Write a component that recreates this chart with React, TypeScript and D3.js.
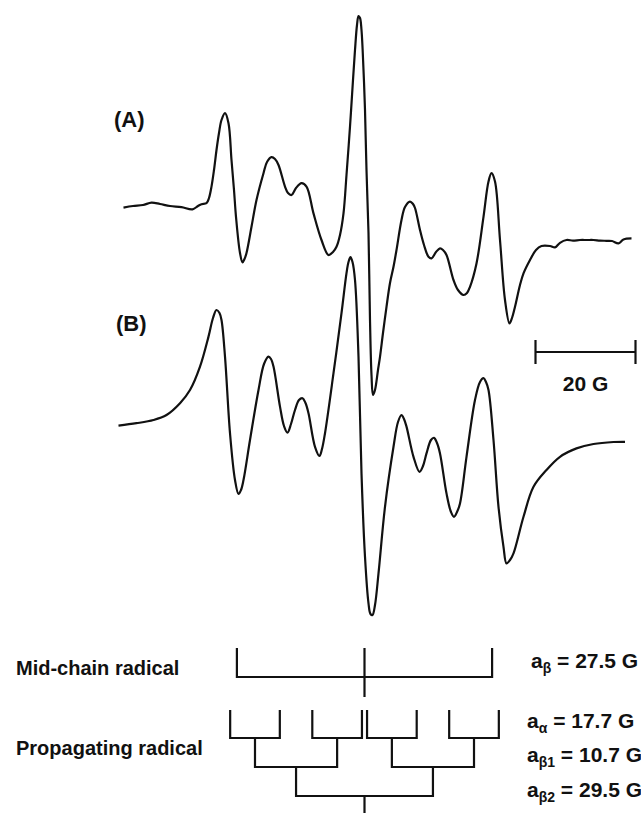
import React from "react";
import * as d3 from "d3";

// ---- Spectrum (A): experimental, field offset (G) vs. derivative intensity (a.u.)
const fieldA = [
  -48.1, -46.2, -44.2, -42.5, -40.8, -38.8, -36.5, -34.3, -33.2, -32.5, -31.5, -31.0, -30.5, -30.0,
  -29.5, -29.0, -28.5, -27.8, -27.1, -26.5, -26.0, -25.6, -24.8, -24.3, -23.9, -23.5, -22.5, -21.5,
  -20.1, -19.4, -18.5, -17.8, -17.1, -15.8, -15.2, -14.5, -13.6, -12.5, -11.5, -10.1, -8.5, -7.1,
  -6.2, -5.5, -4.8, -4.1, -3.5, -2.8, -2.2, -1.8, -1.4, -1.1, -0.8, -0.5, -0.1, 0.2, 0.5, 0.9, 1.2,
  1.5, 1.8, 2.2, 2.8, 3.2, 3.8, 4.5, 5.2, 5.9, 6.5, 7.5, 8.2, 9.2, 9.8, 10.2, 11.2, 12.0, 12.9, 13.5,
  14.4, 15.2, 15.8, 16.5, 17.9, 18.8, 19.9, 20.6, 21.2, 22.5, 23.9, 24.9, 25.5, 26.2, 27.2, 28.2,
  29.1, 29.6, 30.2, 31.2, 31.9, 33.2, 34.4, 35.5, 37.2, 38.2, 39.2, 40.5, 41.8, 43.2, 44.6, 45.9,
  47.2, 48.5, 49.6, 50.9, 51.9, 53.5,
];
const intensityA = [
  0.2, 1.0, 1.5, 2.7, 2.0, 1.0, 0.4, -0.7, 1.0, 1.9, 2.4, 5.0, 10.7, 19.0,
  29.0, 37.5, 44.0, 47.4, 42.4, 24.0, 9.0, -4.4, -22.5, -27.2, -25.5, -22.5, -9.4, 4.0,
  17.4, 23.0, 25.4, 24.5, 21.5, 10.7, 7.5, 6.5, 10.0, 12.4, 10.7, -2.7, -16.0, -23.5,
  -22.0, -19.4, -13.5, -2.7, 16.5, 40.7, 64.0, 79.0, 91.5, 96.0, 95.0, 89.0, 69.0, 49.0, 19.0, -12.5, -56.0,
  -83.5, -93.5, -91.0, -81.0, -74.4, -62.5, -49.4, -37.5, -29.4, -21.0, -6.0, 0.5, 3.2, 2.0, 0.0, -11.0, -18.5, -24.4, -25.2,
  -22.0, -20.2, -21.0, -23.5, -36.0, -41.0, -43.5, -42.5, -39.4, -27.7, -4.4, 13.2, 17.4, 13.2, -16.0, -46.0,
  -57.7, -55.0, -49.4, -38.5, -32.7, -26.0, -21.0, -19.0, -19.0, -19.7, -17.4, -16.0, -16.3, -16.0, -16.0, -16.0,
  -16.3, -16.4, -16.5, -17.7, -15.7, -15.2,
];

// ---- Spectrum (B): simulated
const fieldB = [
  -49.1, -45.5, -42.1, -39.5, -36.8, -34.8, -32.8, -31.1, -30.2, -29.5, -28.9, -28.5, -27.8, -26.8,
  -25.8, -25.1, -24.6, -24.1, -22.8, -21.1, -20.0, -19.1, -18.6, -18.1, -16.8, -16.0, -15.3, -14.6,
  -13.8, -13.0, -12.3, -11.7, -11.1, -9.8, -8.9, -8.4, -7.8, -6.1, -4.5, -3.5, -3.1, -2.7, -2.3,
  -1.8, -1.1, -0.5, 0.2, 0.9, 1.3, 1.7, 2.2, 2.9, 4.2, 5.9, 6.8, 7.5, 8.0, 8.5, 9.9, 11.1, 11.8,
  12.5, 13.4, 14.0, 14.6, 15.2, 16.5, 17.4, 18.0, 18.6, 19.2, 20.5, 22.2, 23.2, 23.9, 24.4, 24.9,
  25.9, 26.9, 27.9, 28.5, 29.2, 29.9, 31.9, 33.9, 36.5, 39.2, 42.5, 45.9, 49.9, 52.2,
];
const intensityB = [
  5.2, 6.4, 8.0, 10.5, 16.4, 23.0, 34.7, 49.7, 59.0, 63.0, 61.5, 58.0, 39.7, 1.4,
  -22.0, -29.0, -27.0, -22.0, -2.0, 23.0, 36.0, 39.7, 38.5, 34.7, 14.7, 5.0, 1.7, 6.0,
  13.0, 18.0, 18.9, 16.5, 11.4, -5.4, -10.0, -6.5, 1.4, 31.4, 61.4, 81.4, 87.0, 89.4, 87.0,
  78.0, 39.7, -18.7, -60.4, -83.7, -89.0, -89.5, -84.5, -68.7, -35.4, -5.4, 7.0, 10.5, 8.5, 4.7, -10.4, -17.9, -15.0,
  -8.7, -2.0, -0.9, -3.5, -8.7, -28.7, -38.0, -40.4, -38.0, -33.7, -10.4, 18.0, 27.0, 28.9, 27.0, 23.0,
  -2.0, -35.4, -55.4, -63.7, -62.0, -58.7, -40.4, -25.4, -17.0, -10.4, -6.2, -4.0, -3.0, -2.9,
];

// ---- Hyperfine coupling constants (G) for the stick diagrams
const midChainSplittings = [27.5]; // a_beta
const propagatingSplittings = [29.5, 17.7, 10.7]; // a_beta2, a_alpha, a_beta1 (bottom to top)
const scaleBarLength = 20; // G

const couplingLabels = [
  { sub: "β", value: "27.5" },
  { sub: "α", value: "17.7" },
  { sub: "β1", value: "10.7" },
  { sub: "β2", value: "29.5" },
];
const radicalNames = ["Mid-chain radical", "Propagating radical"];
const spectrumLabels = ["(A)", "(B)"];

const W = 641;
const H = 813;
const FONT = "'Liberation Sans', Arial, Helvetica, sans-serif";

export default function App() {
  const x = d3.scaleLinear().domain([-50, 55]).range([114, 639]);
  const yA = d3.scaleLinear().domain([-100, 100]).range([408, 8]);
  const yB = d3.scaleLinear().domain([-100, 100]).range([636, 236]);
  const stickX = d3.scaleLinear().domain([-30, 30]).range([364.5 - 139.2, 364.5 + 139.2]);

  const lineA = d3
    .line<number>()
    .x((_, i) => x(fieldA[i]))
    .y((d) => yA(d))
    .curve(d3.curveCatmullRom.alpha(0.5));
  const lineB = d3
    .line<number>()
    .x((_, i) => x(fieldB[i]))
    .y((d) => yB(d))
    .curve(d3.curveCatmullRom.alpha(0.5));

  // Mid-chain stick diagram (1:2:1 triplet)
  const midTop = 648;
  const midBar = 677;
  const midStemBottom = 697;
  const aB = midChainSplittings[0];
  const midPath = [
    `M${stickX(-aB)},${midTop}V${midBar}H${stickX(aB)}V${midTop}`,
    `M${stickX(0)},${midTop}V${midStemBottom}`,
  ].join("");

  // Propagating radical: splitting tree drawn from the bottom up
  const levelY = [813, 796, 767, 738, 710];
  const segs: string[] = [];
  let centers = [0];
  segs.push(`M${stickX(0)},${levelY[0]}V${levelY[1]}`);
  propagatingSplittings.forEach((a, li) => {
    const next: number[] = [];
    centers.forEach((c) => {
      const l = c - a / 2;
      const r = c + a / 2;
      segs.push(`M${stickX(l)},${levelY[li + 2]}V${levelY[li + 1]}H${stickX(r)}V${levelY[li + 2]}`);
      next.push(l, r);
    });
    centers = next;
  });

  const labelY = [668, 728, 762, 797];

  return (
    <svg
      width={W}
      height={H}
      viewBox={`0 0 ${W} ${H}`}
      style={{ position: "absolute", left: 0, top: 0, background: "#fff" }}
      fontFamily={FONT}
    >
      <rect width={W} height={H} fill="#fff" />
      <path d={lineA(intensityA) || ""} fill="none" stroke="#111" strokeWidth={2.2} strokeLinejoin="round" />
      <path d={lineB(intensityB) || ""} fill="none" stroke="#111" strokeWidth={2.2} strokeLinejoin="round" />

      <text x={114} y={127} fontSize={22} fontWeight="bold" fill="#111">{spectrumLabels[0]}</text>
      <text x={116} y={331} fontSize={22} fontWeight="bold" fill="#111">{spectrumLabels[1]}</text>

      {/* scale bar */}
      <g stroke="#111" strokeWidth={2.2}>
        <line x1={x(34.3)} x2={x(34.3 + scaleBarLength)} y1={352} y2={352} />
        <line x1={x(34.3)} x2={x(34.3)} y1={340} y2={364} />
        <line x1={x(34.3 + scaleBarLength)} x2={x(34.3 + scaleBarLength)} y1={340} y2={364} />
      </g>
      <text x={x(34.3 + scaleBarLength / 2)} y={391} fontSize={21} fontWeight="bold" textAnchor="middle" fill="#111">
        {`${scaleBarLength} G`}
      </text>

      {/* stick diagrams */}
      <path d={midPath} fill="none" stroke="#111" strokeWidth={2.2} />
      <path d={segs.join("")} fill="none" stroke="#111" strokeWidth={2.2} />

      <text x={16} y={675} fontSize={20} fontWeight="bold" fill="#111">{radicalNames[0]}</text>
      <text x={16} y={755} fontSize={20} fontWeight="bold" fill="#111">{radicalNames[1]}</text>

      {couplingLabels.map((c, i) => (
        <text key={i} x={i === 0 ? 531 : 527} y={labelY[i]} fontSize={21} fontWeight="bold" fill="#111">
          a
          <tspan fontSize={14} dy={5}>{c.sub}</tspan>
          <tspan dy={-5}>{` = ${c.value} G`}</tspan>
        </text>
      ))}
    </svg>
  );
}
